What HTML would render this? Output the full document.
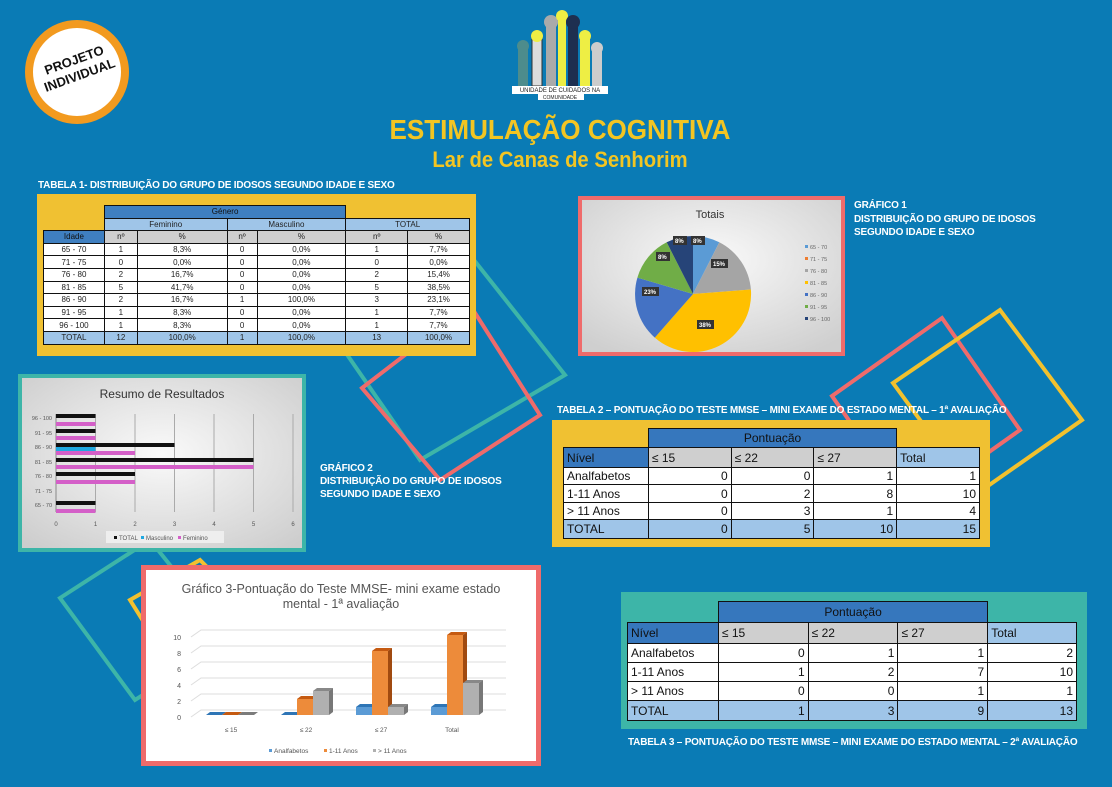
<!DOCTYPE html>
<html><head><meta charset="utf-8">
<style>
*{margin:0;padding:0;box-sizing:border-box}
body{width:1112px;height:787px;background:#0a7bb5;position:relative;overflow:hidden;font-family:"Liberation Sans",sans-serif}
.abs{position:absolute}
.cap{color:#fff;font-weight:bold;font-size:10px;white-space:nowrap;letter-spacing:-0.2px}
table{border-collapse:collapse;position:absolute}
td{border:1px solid #111;text-align:center;white-space:nowrap;overflow:hidden}
.t1 td{font-size:8px;height:12.6px;padding:0;background:#fff;color:#222}
.t1 .g{background:#3f7fc0;color:#111}
.t1 .l{background:#9fc5e8}
.t1 .s{background:#cfcfcf}
.t1 .e{border:none;background:transparent}
.t2 td{font-size:12px;padding:0 3px;background:#fff;color:#111;text-align:right}
.t2 .g{background:#3677bd;text-align:center}
.t2 .h{background:#cfcfcf;text-align:left}
.t2 .n{background:#3677bd;text-align:left}
.t2 .l{background:#9fc5e8}
.t2 .lt{background:#9fc5e8;text-align:left}
.t2 .f{text-align:left}
.t2 .e{border:none;background:transparent}
</style></head><body>
<svg class="abs" style="left:0;top:0" width="1112" height="787">
<g fill="none" stroke-width="4">
<polygon points="330,330 470,255 565,375 420,460" stroke="#3db5a8"/>
<polygon points="362,388 470,305 540,415 440,480" stroke="#ef6b6b"/>
<polygon points="832,396 942,318 1020,430 910,508" stroke="#ef6b6b"/>
<polygon points="893,383 1000,310 1082,420 975,495" stroke="#f2c12e"/>
<polygon points="60,598 150,540 230,640 135,700" stroke="#3db5a8"/>
<polygon points="130,600 200,560 260,620 180,680" stroke="#f2c12e"/>
</g>
</svg>
<!-- badge -->
<div class="abs" style="left:25px;top:20px;width:104px;height:104px;border-radius:50%;background:#fff;border:8px solid #f29a1f"></div>
<div class="abs" style="left:35px;top:52px;width:84px;text-align:center;font-weight:bold;font-size:13px;line-height:16px;color:#111;transform:rotate(-20deg)">PROJETO<br>INDIVIDUAL</div>
<!-- logo -->
<svg class="abs" style="left:510px;top:8px" width="100" height="95">
<rect x="8" y="40" width="10" height="38" fill="#4d8c8c"/><circle cx="13" cy="38" r="6" fill="#4d8c8c"/>
<rect x="22" y="28" width="10" height="50" fill="#ddd" stroke="#333"/><circle cx="27" cy="28" r="6" fill="#ee4"/>
<rect x="36" y="14" width="10" height="64" fill="#aaa"/><circle cx="41" cy="14" r="7" fill="#aaa"/>
<rect x="48" y="10" width="8" height="68" fill="#ee4"/><circle cx="52" cy="8" r="6" fill="#ee4"/>
<rect x="58" y="14" width="10" height="64" fill="#1e2f50"/><circle cx="63" cy="14" r="7" fill="#1e2f50"/>
<rect x="70" y="28" width="10" height="50" fill="#ee4"/><circle cx="75" cy="28" r="6" fill="#ee4"/>
<rect x="82" y="40" width="10" height="38" fill="#ccc"/><circle cx="87" cy="40" r="6" fill="#ccc"/>
<rect x="2" y="78" width="96" height="8" fill="#fff"/><rect x="28" y="86" width="46" height="6" fill="#fff"/>
<text x="50" y="84" font-size="6" text-anchor="middle" fill="#222">UNIDADE DE CUIDADOS NA</text>
<text x="50" y="91" font-size="5" text-anchor="middle" fill="#222">COMUNIDADE</text>
</svg>
<div class="abs" style="left:345px;top:114px;width:430px;text-align:center;color:#f3c522;font-weight:bold;font-size:28px;transform:scaleX(0.93)">ESTIMULAÇÃO COGNITIVA</div>
<div class="abs" style="left:365px;top:147px;width:390px;text-align:center;color:#f3c522;font-weight:bold;font-size:22px;transform:scaleX(0.92)">Lar de Canas de Senhorim</div>

<!-- Table 1 -->
<div class="abs cap" style="left:38px;top:180px;font-size:10px">TABELA 1- DISTRIBUIÇÃO DO GRUPO DE IDOSOS SEGUNDO IDADE E SEXO</div>
<div class="abs" style="left:37px;top:194px;width:439px;height:162px;background:#f0c132"></div>
<table class="t1" style="left:43px;top:205px;width:427px">
<colgroup><col style="width:61px"><col style="width:33px"><col style="width:90px"><col style="width:30px"><col style="width:89px"><col style="width:62px"><col style="width:62px"></colgroup>
<tr><td class="e"></td><td colspan="4" class="g">Género</td><td colspan="2" class="e"></td></tr>
<tr><td class="e"></td><td colspan="2" class="l">Feminino</td><td colspan="2" class="l">Masculino</td><td colspan="2" class="l">TOTAL</td></tr>
<tr><td class="g">Idade</td><td class="s">nº</td><td class="s">%</td><td class="s">nº</td><td class="s">%</td><td class="s">nº</td><td class="s">%</td></tr>
<tr><td>65 - 70</td><td>1</td><td>8,3%</td><td>0</td><td>0,0%</td><td>1</td><td>7,7%</td></tr>
<tr><td>71 - 75</td><td>0</td><td>0,0%</td><td>0</td><td>0,0%</td><td>0</td><td>0,0%</td></tr>
<tr><td>76 - 80</td><td>2</td><td>16,7%</td><td>0</td><td>0,0%</td><td>2</td><td>15,4%</td></tr>
<tr><td>81 - 85</td><td>5</td><td>41,7%</td><td>0</td><td>0,0%</td><td>5</td><td>38,5%</td></tr>
<tr><td>86 - 90</td><td>2</td><td>16,7%</td><td>1</td><td>100,0%</td><td>3</td><td>23,1%</td></tr>
<tr><td>91 - 95</td><td>1</td><td>8,3%</td><td>0</td><td>0,0%</td><td>1</td><td>7,7%</td></tr>
<tr><td>96 - 100</td><td>1</td><td>8,3%</td><td>0</td><td>0,0%</td><td>1</td><td>7,7%</td></tr>
<tr><td class="l">TOTAL</td><td class="l">12</td><td class="l">100,0%</td><td class="l">1</td><td class="l">100,0%</td><td class="l">13</td><td class="l">100,0%</td></tr>
</table>

<!-- Pie -->
<svg class="abs" style="left:578px;top:196px" width="267" height="160">
<defs><radialGradient id="gg" cx="0.5" cy="0.4" r="0.7"><stop offset="0" stop-color="#fafafa"/><stop offset="1" stop-color="#cfcfcf"/></radialGradient></defs>
<rect x="2" y="2" width="263" height="156" fill="url(#gg)" stroke="#ef6b6b" stroke-width="4"/>
<text x="132" y="22" font-size="11" text-anchor="middle" fill="#333">Totais</text>
<g transform="translate(115,98)">
<path d="M0,0 L0,-58 A58,58 0 0 1 26.3,-51.7 Z" fill="#5b9bd5"/>
<path d="M0,0 L26.3,-51.7 A58,58 0 0 1 57.9,-4.5 Z" fill="#a5a5a5"/>
<path d="M0,0 L57.9,-4.5 A58,58 0 0 1 -38.2,43.6 Z" fill="#ffc000"/>
<path d="M0,0 L-38.2,43.6 A58,58 0 0 1 -55.6,-16.4 Z" fill="#4472c4"/>
<path d="M0,0 L-55.6,-16.4 A58,58 0 0 1 -26.3,-51.7 Z" fill="#70ad47"/>
<path d="M0,0 L-26.3,-51.7 A58,58 0 0 1 0,-58 Z" fill="#264478"/>
</g>
<g font-size="6" fill="#fff" font-weight="bold">
<rect x="113" y="40" width="14" height="9" fill="#333"/><text x="115" y="47">8%</text>
<rect x="95" y="40" width="14" height="9" fill="#333"/><text x="97" y="47">8%</text>
<rect x="78" y="56" width="14" height="9" fill="#333"/><text x="80" y="63">8%</text>
<rect x="133" y="63" width="17" height="9" fill="#333"/><text x="135" y="70">15%</text>
<rect x="64" y="91" width="17" height="9" fill="#333"/><text x="66" y="98">23%</text>
<rect x="119" y="124" width="17" height="9" fill="#333"/><text x="121" y="131">38%</text>
</g>
<g font-size="5.5" fill="#666">
<rect x="227" y="49" width="3" height="3" fill="#5b9bd5"/><text x="232" y="53">65 - 70</text>
<rect x="227" y="61" width="3" height="3" fill="#ed7d31"/><text x="232" y="65">71 - 75</text>
<rect x="227" y="73" width="3" height="3" fill="#a5a5a5"/><text x="232" y="77">76 - 80</text>
<rect x="227" y="85" width="3" height="3" fill="#ffc000"/><text x="232" y="89">81 - 85</text>
<rect x="227" y="97" width="3" height="3" fill="#4472c4"/><text x="232" y="101">86 - 90</text>
<rect x="227" y="109" width="3" height="3" fill="#70ad47"/><text x="232" y="113">91 - 95</text>
<rect x="227" y="121" width="3" height="3" fill="#264478"/><text x="232" y="125">96 - 100</text>
</g>
</svg>
<div class="abs cap" style="left:854px;top:199px;line-height:13.5px">GRÁFICO 1<br>DISTRIBUIÇÃO DO GRUPO DE IDOSOS<br>SEGUNDO IDADE E SEXO</div>

<!-- Chart 2 -->
<svg class="abs" style="left:18px;top:374px" width="288" height="178">
<defs><radialGradient id="g2" cx="0.5" cy="0.45" r="0.7"><stop offset="0" stop-color="#fafafa"/><stop offset="1" stop-color="#cdcdcd"/></radialGradient></defs>
<rect x="2" y="2" width="284" height="174" fill="url(#g2)" stroke="#3db5a8" stroke-width="4"/>
<text x="144" y="24" font-size="12" text-anchor="middle" fill="#333">Resumo de Resultados</text>
<g stroke="#aaa" stroke-width="1">
<line x1="77.5" y1="40" x2="77.5" y2="138"/><line x1="117" y1="40" x2="117" y2="138"/><line x1="156.5" y1="40" x2="156.5" y2="138"/><line x1="196" y1="40" x2="196" y2="138"/><line x1="235.5" y1="40" x2="235.5" y2="138"/><line x1="275" y1="40" x2="275" y2="138"/>
</g>
<line x1="38" y1="40" x2="38" y2="138" stroke="#888"/>
<g font-size="5.5" fill="#555" text-anchor="end">
<text x="34" y="46">96 - 100</text><text x="34" y="61">91 - 95</text><text x="34" y="75">86 - 90</text><text x="34" y="90">81 - 85</text><text x="34" y="104">76 - 80</text><text x="34" y="119">71 - 75</text><text x="34" y="133">65 - 70</text>
</g>
<g font-size="6" fill="#555" text-anchor="middle">
<text x="38" y="152">0</text><text x="77.5" y="152">1</text><text x="117" y="152">2</text><text x="156.5" y="152">3</text><text x="196" y="152">4</text><text x="235.5" y="152">5</text><text x="275" y="152">6</text>
</g>
<g fill="#111">
<rect x="38" y="40" width="39.5" height="4"/><rect x="38" y="55" width="39.5" height="4"/><rect x="38" y="69" width="118.5" height="4"/><rect x="38" y="84" width="197.5" height="4"/><rect x="38" y="98" width="79" height="4"/><rect x="38" y="127" width="39.5" height="4"/>
</g>
<rect x="38" y="73" width="39.5" height="4" fill="#1fa8e0"/>
<g fill="#d45fc8">
<rect x="38" y="48" width="39.5" height="4"/><rect x="38" y="62" width="39.5" height="4"/><rect x="38" y="77" width="79" height="4"/><rect x="38" y="91" width="197.5" height="4"/><rect x="38" y="106" width="79" height="4"/><rect x="38" y="135" width="39.5" height="4"/>
</g>
<rect x="88" y="157" width="118" height="12" fill="#eee"/>
<g font-size="6" fill="#555">
<rect x="96" y="162" width="3" height="3" fill="#111"/><text x="101" y="166">TOTAL</text>
<rect x="123" y="162" width="3" height="3" fill="#1fa8e0"/><text x="128" y="166">Masculino</text>
<rect x="160" y="162" width="3" height="3" fill="#d45fc8"/><text x="165" y="166">Feminino</text>
</g>
</svg>
<div class="abs cap" style="left:320px;top:462px;line-height:13px">GRÁFICO 2<br>DISTRIBUIÇÃO DO GRUPO DE IDOSOS<br>SEGUNDO IDADE E SEXO</div>

<!-- Table 2 -->
<div class="abs cap" style="left:557px;top:405px">TABELA 2 – PONTUAÇÃO DO TESTE MMSE – MINI EXAME DO ESTADO MENTAL – 1ª AVALIAÇÃO</div>
<div class="abs" style="left:552px;top:420px;width:438px;height:127px;background:#f0c132"></div>
<table class="t2" style="left:563px;top:428px;width:417px">
<colgroup><col style="width:85px"><col style="width:83px"><col style="width:83px"><col style="width:83px"><col style="width:83px"></colgroup>
<tr style="height:19px"><td class="e"></td><td colspan="3" class="g">Pontuação</td><td class="e"></td></tr>
<tr style="height:20px"><td class="n">Nível</td><td class="h">≤ 15</td><td class="h">≤ 22</td><td class="h">≤ 27</td><td class="lt">Total</td></tr>
<tr style="height:17px"><td class="f">Analfabetos</td><td>0</td><td>0</td><td>1</td><td>1</td></tr>
<tr style="height:18px"><td class="f">1-11 Anos</td><td>0</td><td>2</td><td>8</td><td>10</td></tr>
<tr style="height:17px"><td class="f">&gt; 11 Anos</td><td>0</td><td>3</td><td>1</td><td>4</td></tr>
<tr style="height:19px"><td class="lt">TOTAL</td><td class="l">0</td><td class="l">5</td><td class="l">10</td><td class="l">15</td></tr>
</table>

<!-- Chart 3 -->
<svg class="abs" style="left:141px;top:565px" width="400" height="201">
<rect x="2.5" y="2.5" width="395" height="196" fill="#fff" stroke="#ef6b6b" stroke-width="5"/>
<text x="200" y="28" font-size="12.5" text-anchor="middle" fill="#555">Gráfico 3-Pontuação  do Teste MMSE- mini exame estado</text>
<text x="200" y="43" font-size="12.5" text-anchor="middle" fill="#555">mental - 1ª avaliação</text>
<g stroke="#ddd" stroke-width="1" fill="none">
<polyline points="50,152 60,145 365,145"/><polyline points="50,136 60,129 365,129"/><polyline points="50,120 60,113 365,113"/><polyline points="50,104 60,97 365,97"/><polyline points="50,88 60,81 365,81"/><polyline points="50,72 60,65 365,65"/>
</g>
<g font-size="7" fill="#555" text-anchor="end">
<text x="40" y="155">0</text><text x="40" y="139">2</text><text x="40" y="123">4</text><text x="40" y="107">6</text><text x="40" y="91">8</text><text x="40" y="75">10</text>
</g>
<g font-size="6.5" fill="#555" text-anchor="middle">
<text x="90" y="167">≤ 15</text><text x="165" y="167">≤ 22</text><text x="240" y="167">≤ 27</text><text x="311" y="167">Total</text>
</g>
<g>
<polygon points="65,150 81,150 85,147 69,147" fill="#2e75b6"/>
<polygon points="81,150 97,150 101,147 85,147" fill="#c55a11"/>
<polygon points="97,150 113,150 117,147 101,147" fill="#7b7b7b"/>
<polygon points="140,150 156,150 160,147 144,147" fill="#2e75b6"/>
<rect x="156" y="134" width="16" height="16" fill="#ed8b3a"/><polygon points="156,134 172,134 176,131 160,131" fill="#c55a11"/><polygon points="172,134 176,131 176,147 172,150" fill="#a04a10"/>
<rect x="172" y="126" width="16" height="24" fill="#b0b0b0"/><polygon points="172,126 188,126 192,123 176,123" fill="#888"/><polygon points="188,126 192,123 192,147 188,150" fill="#777"/>
<rect x="215" y="142" width="16" height="8" fill="#5b9bd5"/><polygon points="215,142 231,142 235,139 219,139" fill="#2e75b6"/>
<rect x="231" y="86" width="16" height="64" fill="#ed8b3a"/><polygon points="231,86 247,86 251,83 235,83" fill="#c55a11"/><polygon points="247,86 251,83 251,147 247,150" fill="#a04a10"/>
<rect x="247" y="142" width="16" height="8" fill="#b0b0b0"/><polygon points="247,142 263,142 267,139 251,139" fill="#888"/><polygon points="263,142 267,139 267,147 263,150" fill="#777"/>
<rect x="290" y="142" width="16" height="8" fill="#5b9bd5"/><polygon points="290,142 306,142 310,139 294,139" fill="#2e75b6"/>
<rect x="306" y="70" width="16" height="80" fill="#ed8b3a"/><polygon points="306,70 322,70 326,67 310,67" fill="#c55a11"/><polygon points="322,70 326,67 326,147 322,150" fill="#a04a10"/>
<rect x="322" y="118" width="16" height="32" fill="#b0b0b0"/><polygon points="322,118 338,118 342,115 326,115" fill="#888"/><polygon points="338,118 342,115 342,147 338,150" fill="#777"/>
</g>
<g font-size="6.5" fill="#555">
<rect x="128" y="184" width="3" height="3" fill="#5b9bd5"/><text x="133" y="188">Analfabetos</text>
<rect x="183" y="184" width="3" height="3" fill="#ed8b3a"/><text x="188" y="188">1-11 Anos</text>
<rect x="232" y="184" width="3" height="3" fill="#b0b0b0"/><text x="237" y="188">&gt; 11 Anos</text>
</g>
</svg>

<!-- Table 3 -->
<div class="abs" style="left:621px;top:592px;width:466px;height:137px;background:#3db5a8"></div>
<table class="t2" style="left:627px;top:601px;width:450px">
<colgroup><col style="width:91px"><col style="width:90px"><col style="width:90px"><col style="width:90px"><col style="width:89px"></colgroup>
<tr style="height:21px"><td class="e"></td><td colspan="3" class="g">Pontuação</td><td class="e"></td></tr>
<tr style="height:21px"><td class="n">Nível</td><td class="h">≤ 15</td><td class="h">≤ 22</td><td class="h">≤ 27</td><td class="lt">Total</td></tr>
<tr style="height:19px"><td class="f">Analfabetos</td><td>0</td><td>1</td><td>1</td><td>2</td></tr>
<tr style="height:19px"><td class="f">1-11 Anos</td><td>1</td><td>2</td><td>7</td><td>10</td></tr>
<tr style="height:19px"><td class="f">&gt; 11 Anos</td><td>0</td><td>0</td><td>1</td><td>1</td></tr>
<tr style="height:20px"><td class="lt">TOTAL</td><td class="l">1</td><td class="l">3</td><td class="l">9</td><td class="l">13</td></tr>
</table>
<div class="abs cap" style="left:628px;top:737px">TABELA 3 – PONTUAÇÃO DO TESTE MMSE – MINI EXAME DO ESTADO MENTAL – 2ª AVALIAÇÃO</div>
</body></html>
